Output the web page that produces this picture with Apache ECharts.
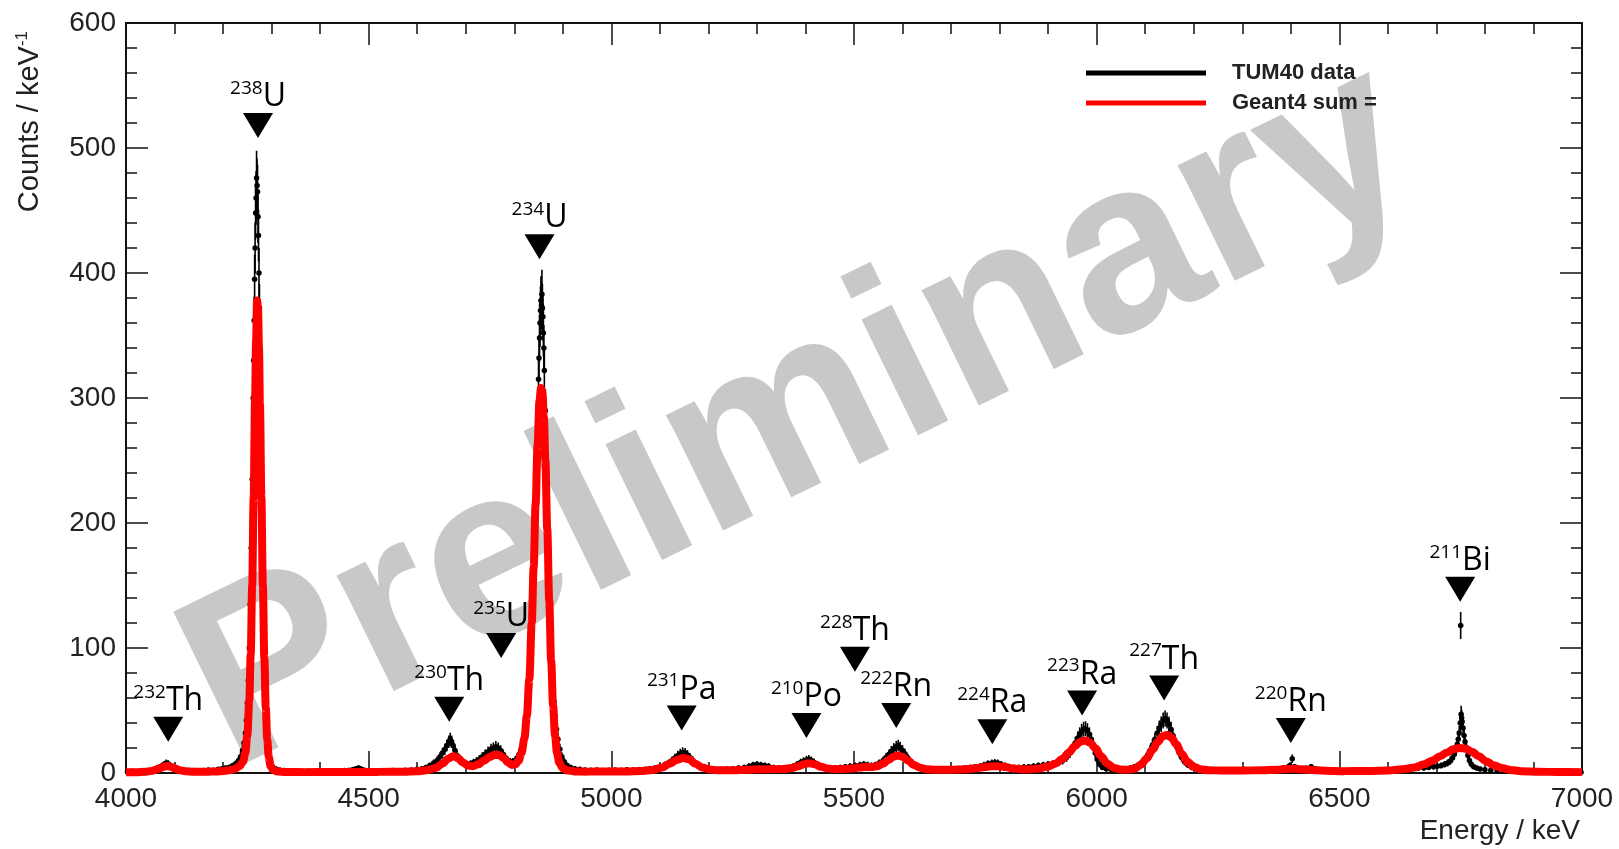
<!DOCTYPE html>
<html>
<head>
<meta charset="utf-8">
<title>Alpha spectrum TUM40</title>
<script src="https://cdn.jsdelivr.net/npm/echarts@6/dist/echarts.min.js"></script>
<style>
  html, body { margin: 0; padding: 0; background: #fff; }
  #chart { width: 1619px; height: 849px; }
</style>
</head>
<body>
<div id="chart"></div>
<script>
// Axis ranges (keV, counts per keV)
const energyRange = [4000, 7000];
const countRange = [0, 600];

// Measured TUM40 spectrum: [energy keV, counts / keV]
const tum40Data = [
  [4003,1],[4012,1.5],[4021,1],[4030,1.2],[4040,1.8],[4050,2],[4058,3],[4064,4],[4070,5],[4075,6],
  [4079,7],[4083,8],[4087,7.5],[4091,6],[4096,5],[4102,3.5],[4110,2.5],[4120,2],[4130,1.8],[4140,2],
  [4150,1.5],[4160,2],[4170,2.5],[4180,2.2],[4190,3],[4198,3.5],[4205,4],[4212,4.5],[4218,5.5],[4223,6.5],
  [4228,8],[4232,10],[4236,13],[4240,18],[4243,24],[4246,32],[4248,42],[4250,56],[4252,74],[4254,100],
  [4256,135],[4258,180],[4260,235],[4262,300],[4263,330],[4264,362],[4265,395],[4266,420],[4267,448],[4268,460],
  [4269,476],[4270,470],[4271,465],[4272,445],[4273,430],[4274,400],[4275,372],[4276,340],[4278,270],[4280,205],
  [4282,150],[4284,105],[4286,70],[4288,46],[4290,30],[4292,20],[4295,12],[4298,8],[4302,5],[4308,3.5],
  [4316,2.5],[4326,2],[4338,1.6],[4350,1.4],[4362,1.2],[4375,1.5],[4388,1.2],[4400,1.4],[4412,1.6],[4425,1.3],
  [4438,1.8],[4450,2],[4460,2.2],[4468,2.8],[4474,3.5],[4479,4],[4484,3.2],[4490,2.5],[4500,2],[4512,1.6],
  [4525,1.8],[4538,1.5],[4550,2],[4562,1.8],[4575,2.2],[4588,2.5],[4600,3],[4610,3.5],[4618,4.5],[4626,6],
  [4634,8],[4641,10],[4647,13],[4652,16],[4657,19],[4661,22],[4665,25],[4668,27],[4671,25],[4674,22],
  [4678,18],[4682,14],[4687,11],[4692,9],[4698,8],[4704,7],[4710,7.5],[4716,8.5],[4722,9.5],[4728,11],
  [4734,13],[4740,15],[4746,17],[4752,19],[4757,20],[4762,21],[4767,20],[4772,18],[4777,15],[4782,12],
  [4787,10],[4792,9],[4797,9],[4802,10],[4806,12],[4810,15],[4814,19],[4818,25],[4822,33],[4826,46],
  [4830,65],[4833,85],[4836,110],[4839,145],[4842,185],[4845,230],[4848,280],[4850,315],[4851,332],[4852,348],
  [4853,360],[4854,370],[4855,378],[4856,374],[4857,383],[4858,372],[4859,365],[4860,352],[4861,340],[4862,322],
  [4864,290],[4866,255],[4868,220],[4870,185],[4872,155],[4874,128],[4876,105],[4878,86],[4880,70],[4882,57],
  [4884,46],[4887,35],[4890,27],[4894,19],[4898,13],[4903,9],[4909,6],[4916,4.5],[4925,3.5],[4935,3],
  [4946,2.5],[4958,2.2],[4970,2.5],[4982,2],[4995,2.2],[5008,2.5],[5020,2.2],[5032,2.6],[5045,2.4],[5058,2.8],
  [5070,3],[5080,3.5],[5090,4],[5100,5],[5110,6.5],[5118,8],[5125,10],[5131,12],[5137,14],[5142,15.5],
  [5147,16.5],[5152,16],[5157,14.5],[5162,12.5],[5168,10],[5174,7.5],[5181,5.5],[5190,4],[5200,3.2],[5212,2.8],
  [5225,3],[5238,3.2],[5250,3.5],[5262,4],[5274,4.5],[5284,5.5],[5292,6.5],[5300,7],[5308,6.5],[5316,6],
  [5324,5.5],[5334,4.5],[5345,4],[5356,4],[5366,4.5],[5375,5.5],[5383,7],[5390,8.5],[5396,9.5],[5402,10.5],
  [5407,11],[5412,10],[5418,8.5],[5425,6.5],[5433,5],[5442,4],[5452,3.8],[5462,4],[5472,4.5],[5482,5],
  [5492,5.5],[5502,6],[5512,6.5],[5520,7],[5528,6.5],[5536,6],[5544,6.5],[5552,8],[5560,10],[5566,12.5],
  [5572,15],[5577,17.5],[5582,19.5],[5587,21],[5591,22],[5595,20.5],[5600,18],[5605,15.5],[5611,12],[5618,9],
  [5626,6.5],[5635,5],[5645,4],[5656,3.5],[5668,3],[5680,3.2],[5692,3],[5704,3.4],[5716,3.6],[5728,4],
  [5740,4.5],[5750,5],[5760,5.5],[5768,6.5],[5776,7.5],[5784,8],[5790,8.3],[5796,8],[5803,7],[5811,6],
  [5820,5],[5830,4.5],[5840,4.5],[5850,4.8],[5860,5],[5870,5.5],[5880,6],[5890,6.5],[5900,7],[5910,7.5],
  [5920,8.5],[5930,10],[5938,12.5],[5945,16],[5951,20],[5956,24],[5961,28],[5965,31],[5969,33.5],[5973,35],
  [5977,35.5],[5981,34],[5985,31],[5989,27],[5993,22],[5997,16],[6001,11],[6006,7],[6012,4.5],[6020,3.2],
  [6030,2.8],[6040,3],[6050,3.2],[6060,3.5],[6070,4],[6078,5],[6086,6.5],[6093,8.5],[6099,11],[6105,14.5],
  [6110,18],[6115,22.5],[6120,27],[6125,32],[6129,36],[6133,39],[6137,42],[6141,43.5],[6145,42],[6149,39],
  [6153,35],[6157,30],[6161,25.5],[6165,21],[6170,16.5],[6175,12.5],[6181,9],[6188,6.5],[6196,4.5],[6205,3.5],
  [6216,3],[6228,2.6],[6240,2.5],[6252,2.4],[6265,2.5],[6278,2.3],[6290,2.5],[6302,2.4],[6315,2.6],[6328,2.5],
  [6340,2.8],[6352,3],[6363,3.2],[6374,3.5],[6384,4],[6392,4.5],[6398,6],[6403,11.5],[6408,5],[6414,4],
  [6422,3.5],[6432,3.8],[6442,5],[6450,3.5],[6460,2.5],[6472,2],[6485,1.8],[6498,1.6],[6512,1.5],[6525,1.6],
  [6538,1.5],[6552,1.6],[6565,1.8],[6578,2],[6590,2.2],[6602,2.5],[6614,2.8],[6626,3],[6638,3.2],[6650,3.5],
  [6662,3.8],[6674,4],[6684,4.5],[6694,5],[6702,5.5],[6710,6],[6717,7],[6723,8],[6728,9.5],[6733,12],
  [6737,15],[6740,18.5],[6743,23],[6745,27],[6747,32],[6749,40],[6750,118],[6751,47],[6752,44],[6753,41],
  [6755,36],[6757,30],[6759,25],[6762,19],[6765,14],[6768,10],[6772,7],[6777,5],[6783,4],[6790,3.2],
  [6800,2.6],[6812,2.2],[6825,1.8],[6838,1.6],[6852,1.4],[6866,1.2],[6880,1.2],[6895,1],[6910,1],[6925,0.9],
  [6940,0.9],[6955,0.8],[6970,0.8],[6985,0.7],[6998,0.7]
];

// Simulated Geant4 sum of all decay chains: [energy keV, counts / keV]
const geant4Sum = [
  [4000,0.6],[4020,0.7],[4040,1],[4052,1.6],[4062,2.6],[4071,4],[4079,5.2],[4086,5.6],[4093,5],[4101,3.6],
  [4110,2.3],[4122,1.4],[4140,1],[4165,1],[4190,1.3],[4210,2],[4224,3.2],[4234,5.5],[4241,9],[4246,16],
  [4250,30],[4254,58],[4257,95],[4260,150],[4263,220],[4266,300],[4268,345],[4270,378],[4272,372],[4274,340],
  [4276,295],[4279,220],[4282,150],[4285,92],[4288,52],[4291,27],[4294,13],[4298,5.5],[4303,2.5],[4312,1.2],
  [4330,0.8],[4370,0.7],[4420,0.8],[4470,0.9],[4520,0.9],[4570,1],[4600,1.4],[4620,2.2],[4638,4],[4652,7.5],
  [4664,11.5],[4674,13.5],[4684,12],[4694,8.5],[4704,6],[4714,5.5],[4726,7],[4738,10],[4750,13],[4760,14.5],
  [4769,14.5],[4778,12],[4787,8.5],[4795,6.5],[4802,7],[4809,10],[4815,16],[4821,28],[4826,46],[4831,75],
  [4836,120],[4840,165],[4844,215],[4848,262],[4852,298],[4855,308],[4858,304],[4861,285],[4864,250],[4868,195],
  [4872,138],[4876,90],[4880,54],[4884,30],[4888,16],[4893,8],[4900,3.8],[4910,2],[4925,1.3],[4950,1.1],
  [4990,1.2],[5030,1.3],[5060,1.6],[5085,2.5],[5105,4.5],[5120,7.5],[5135,10.5],[5148,12],[5160,11],[5173,7.5],
  [5187,4.5],[5202,2.8],[5220,2.2],[5250,2.3],[5280,2.6],[5305,3],[5330,3],[5355,3.2],[5372,4],[5386,5.5],
  [5398,7.2],[5408,7.8],[5419,7],[5432,5],[5446,3.6],[5462,3],[5480,3.2],[5498,3.8],[5512,4.5],[5524,4.8],
  [5536,4.8],[5548,5.5],[5560,7.5],[5571,10.5],[5581,13],[5590,14],[5600,13],[5611,10],[5623,6.5],[5636,4.2],
  [5650,3],[5670,2.6],[5700,2.6],[5730,3],[5752,3.8],[5770,4.8],[5785,5.5],[5798,5.5],[5812,4.8],[5828,3.6],
  [5845,3],[5862,3],[5880,3.6],[5898,5],[5915,7.5],[5930,11.5],[5943,16.5],[5955,21.5],[5966,25],[5976,26],
  [5986,24.5],[5997,20],[6009,13.5],[6022,7.5],[6036,4],[6050,2.8],[6064,2.6],[6078,3.5],[6091,6.5],[6103,11.5],
  [6115,18.5],[6126,25],[6136,29.5],[6145,30.5],[6154,28.5],[6164,23],[6175,15.5],[6187,9],[6200,5],[6214,3],
  [6230,2.2],[6260,2],[6300,2],[6340,2.2],[6370,2.6],[6392,3.2],[6405,3.4],[6420,3.1],[6440,2.5],[6470,1.8],
  [6510,1.5],[6560,1.6],[6600,2],[6630,3],[6655,4.5],[6675,7],[6692,10],[6708,13.5],[6722,16.5],[6735,19],
  [6748,20],[6760,19.5],[6773,17],[6787,13.5],[6802,9.5],[6818,6.2],[6835,4],[6852,2.5],[6875,1.5],[6910,1],
  [6950,0.8],[7000,0.7]
];

// Isotope markers: mass number, element, energy (keV) and height (counts / keV)
const isotopeMass    = ['232', '238', '230', '235', '234', '231', '210', '228', '222', '224', '223', '227', '220', '211'];
const isotopeElement = ['Th',  'U',   'Th',  'U',   'U',   'Pa',  'Po',  'Th',  'Rn',  'Ra',  'Ra',  'Th',  'Rn',  'Bi'];
const markerEnergy   = [4087, 4272, 4666, 4773, 4852, 5145, 5402, 5502, 5587, 5785, 5970, 6139, 6400, 6749];
const markerLevel    = [35,   518,  51,   102,  421,  44,   38,   91,   46,   33,   56,   68,   34,   147];

const legendNames = ['TUM40 data', 'Geant4 sum ='];

const AXIS_FONT = '"Liberation Sans", Arial, Helvetica, sans-serif';
const LABEL_FONT = '"Open Sans", "Noto Sans", sans-serif';

const markers = markerEnergy.map((e, i) => ({
  value: [e, markerLevel[i]],
  name: '{sup|' + isotopeMass[i] + '}{el|' + isotopeElement[i] + '}'
}));

function axisPair(common, posA, posB, labelCfg) {
  const base = Object.assign({
    type: 'value',
    splitLine: { show: false },
    axisLine: { show: true, onZero: false, lineStyle: { color: '#111', width: 2 } },
    axisTick: { show: true, inside: true, length: 22, lineStyle: { color: '#111', width: 1.5 } },
    minorTick: { show: true, splitNumber: 5, length: 11, lineStyle: { color: '#111', width: 1.5 } },
    minorSplitLine: { show: false }
  }, common);
  return [
    Object.assign({}, base, { position: posA, axisLabel: labelCfg }),
    Object.assign({}, base, { position: posB, axisLabel: { show: false } })
  ];
}

const plainNumber = v => String(v);

const chart = echarts.init(document.getElementById('chart'), null, { renderer: 'canvas' });

const option = {
  animation: false,
  backgroundColor: '#ffffff',
  grid: { left: 126, right: 37, top: 23, bottom: 76 },
  xAxis: axisPair({ min: energyRange[0], max: energyRange[1], interval: 500 }, 'bottom', 'top',
    { show: true, fontSize: 28, color: '#222', fontFamily: AXIS_FONT, margin: 12, formatter: plainNumber }),
  yAxis: axisPair({ min: countRange[0], max: countRange[1], interval: 100 }, 'left', 'right',
    { show: true, fontSize: 28, color: '#222', fontFamily: AXIS_FONT, margin: 10, formatter: plainNumber }),
  legend: {
    left: 1081, top: 57, orient: 'vertical',
    itemWidth: 120, itemHeight: 5, itemGap: 8,
    selectedMode: false,
    data: legendNames.map(n => ({ name: n, icon: 'rect' })),
    textStyle: { fontSize: 22, lineHeight: 22, fontWeight: 'bold', color: '#222', fontFamily: AXIS_FONT, padding: [0, 0, 0, 21] }
  },
  graphic: [
    {
      type: 'text', z: -10, x: 800, y: 418, rotation: 26 * Math.PI / 180,
      silent: true,
      style: {
        text: 'Preliminary', fill: '#c8c8c8',
        font: 'bold 244px "Liberation Sans", Arial, sans-serif',
        align: 'center', verticalAlign: 'middle'
      }
    },
    {
      type: 'text', x: 1580, y: 831,
      style: {
        text: 'Energy / keV', fill: '#222',
        font: '28px "Liberation Sans", Arial, sans-serif',
        align: 'right', verticalAlign: 'middle'
      }
    },
    {
      type: 'text', x: 29, y: 31, rotation: Math.PI / 2,
      style: {
        text: '{m|Counts / keV}{s|-1}',
        align: 'right', verticalAlign: 'middle',
        rich: {
          m: { fontSize: 29, fontFamily: AXIS_FONT, fill: '#222', lineHeight: 30, verticalAlign: 'bottom' },
          s: { fontSize: 17, fontFamily: AXIS_FONT, fill: '#222', lineHeight: 18, verticalAlign: 'top' }
        }
      }
    }
  ],
  series: [
    {
      name: 'stat-errors',
      type: 'custom',
      data: tum40Data,
      encode: { x: 0, y: 1 },
      z: 3,
      silent: true,
      renderItem: function (params, api) {
        const e = api.value(0);
        const c = api.value(1);
        const s = Math.sqrt(c);
        const top = api.coord([e, c + s]);
        const bot = api.coord([e, Math.max(c - s, 0)]);
        return {
          type: 'line',
          shape: { x1: top[0], y1: top[1], x2: bot[0], y2: bot[1] },
          style: { stroke: '#000', lineWidth: 1.6 }
        };
      }
    },
    {
      name: legendNames[0],
      type: 'scatter',
      data: tum40Data,
      symbol: 'circle',
      symbolSize: 5.5,
      itemStyle: { color: '#000', opacity: 1 },
      z: 3,
      silent: true
    },
    {
      name: legendNames[1],
      type: 'line',
      data: geant4Sum,
      showSymbol: false,
      smooth: 0.35,
      smoothMonotone: 'x',
      clip: false,
      lineStyle: { color: '#ff0000', width: 8 },
      itemStyle: { color: '#ff0000' },
      z: 4,
      silent: true
    },
    {
      name: 'isotopes',
      type: 'scatter',
      data: markers,
      symbol: 'triangle',
      symbolRotate: 180,
      symbolSize: [30, 25],
      itemStyle: { color: '#000', opacity: 1 },
      z: 6,
      silent: true,
      label: {
        show: true,
        position: 'top',
        distance: -2,
        formatter: p => p.name,
        rich: {
          sup: { fontSize: 19, fontFamily: LABEL_FONT, color: '#000', lineHeight: 22, verticalAlign: 'top' },
          el: { fontSize: 32, fontFamily: LABEL_FONT, color: '#000', lineHeight: 36 }
        }
      }
    }
  ]
};

chart.setOption(option);
</script>
</body>
</html>
